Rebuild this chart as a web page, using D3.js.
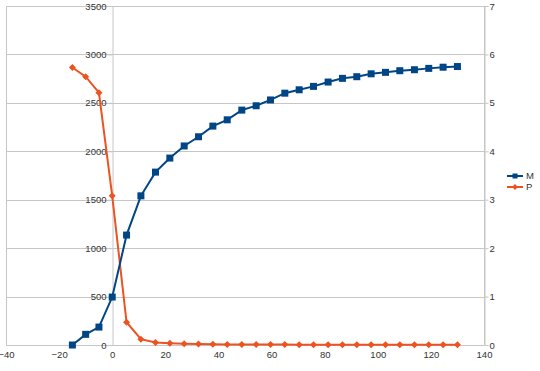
<!DOCTYPE html>
<html>
<head>
<meta charset="utf-8">
<script src="https://cdn.jsdelivr.net/npm/d3@7"></script>
<style>
  body { margin: 0; background: #fff; }
  svg { display: block; font-family: "Liberation Sans", Arial, sans-serif; }
</style>
</head>
<body>
<div id="chart"></div>
<script>
// x positions of the samples
var xValues = [-15, -10, -5, 0, 5.4, 10.8, 16.3, 21.7, 27.1, 32.5, 37.9, 43.3, 48.8, 54.2,
    59.6, 65, 70.4, 75.8, 81.3, 86.7, 92.1, 97.5, 102.9, 108.3, 113.8, 119.2, 124.6, 130];
// series M (left axis)
var mValues = [0, 110, 185, 495, 1135, 1540, 1785, 1930, 2055, 2150, 2260, 2325, 2425, 2470,
    2530, 2600, 2635, 2670, 2715, 2753, 2770, 2800, 2815, 2832, 2842, 2856, 2868, 2875];
// series P (right axis)
var pValues = [5.73, 5.54, 5.21, 3.08, 0.47, 0.12, 0.05, 0.035, 0.025, 0.02, 0.015, 0.012, 0.01, 0.01,
    0.008, 0.008, 0.006, 0.006, 0.005, 0.005, 0.004, 0.004, 0.004, 0.003, 0.003, 0.003, 0.003, 0.003];
var xTicks = [-40, -20, 0, 20, 40, 60, 80, 100, 120, 140];
var leftTicks = [0, 500, 1000, 1500, 2000, 2500, 3000, 3500];
var rightTicks = [0, 1, 2, 3, 4, 5, 6, 7];
var seriesNames = ['M', 'P'];
var colors = ['#004586', '#ec5320'];

var width = 540, height = 371;
var plot = { left: 6, right: 484, top: 6, bottom: 345 };

var svg = d3.select('#chart').append('svg')
    .attr('width', width)
    .attr('height', height);

var x = d3.scaleLinear().domain([-40, 140]).range([plot.left, plot.right]);
var yL = d3.scaleLinear().domain([0, 3500]).range([plot.bottom, plot.top]);
var yR = d3.scaleLinear().domain([0, 7]).range([plot.bottom, plot.top]);

var gridColor = '#c6c6c6';
var textColor = '#333';
var fmt = d3.format('d');

// horizontal gridlines
svg.append('g').selectAll('line')
    .data(leftTicks)
    .enter().append('line')
    .attr('x1', plot.left).attr('x2', plot.right)
    .attr('y1', function(d) { return Math.round(yL(d)) + 0.5; })
    .attr('y2', function(d) { return Math.round(yL(d)) + 0.5; })
    .style('stroke', gridColor);

// plot frame sides
[plot.left, plot.right].forEach(function(px) {
    svg.append('line')
        .attr('x1', px + 0.5).attr('x2', px + 0.5)
        .attr('y1', plot.top).attr('y2', plot.bottom)
        .style('stroke', gridColor);
});

// left axis sitting on x = 0
var axisL = svg.append('g')
    .attr('transform', 'translate(' + (Math.round(x(0)) + 0.5) + ',0)')
    .call(d3.axisLeft(yL).tickValues(leftTicks).tickFormat(fmt).tickSize(5).tickPadding(1));
// right axis
var axisR = svg.append('g')
    .attr('transform', 'translate(' + (plot.right + 0.5) + ',0)')
    .call(d3.axisRight(yR).tickValues(rightTicks).tickFormat(fmt).tickSize(4).tickPadding(1));
// bottom axis labels
var axisB = svg.append('g')
    .attr('transform', 'translate(0,' + (plot.bottom + 0.5) + ')')
    .call(d3.axisBottom(x).tickValues(xTicks).tickFormat(fmt).tickSize(0).tickPadding(6));

[axisL, axisR, axisB].forEach(function(g) {
    g.select('.domain').style('stroke', gridColor);
    g.selectAll('.tick line').style('stroke', gridColor);
    g.selectAll('text')
        .style('fill', textColor)
        .style('font-size', '9.5px')
        .style('font-family', '"Liberation Sans", Arial, sans-serif');
});
axisB.select('.domain').remove();

function drawSeries(yScale, values, color, marker) {
    var pts = xValues.map(function(xv, i) { return [x(xv), yScale(values[i])]; });
    svg.append('path')
        .datum(pts)
        .attr('d', d3.line())
        .style('fill', 'none')
        .style('stroke', color)
        .style('stroke-width', 2);
    svg.append('g').selectAll('path')
        .data(pts)
        .enter().append('path')
        .attr('d', marker)
        .attr('transform', function(d) { return 'translate(' + d[0] + ',' + d[1] + ')'; })
        .style('fill', color);
}

var square = d3.symbol().type(d3.symbolSquare).size(49)();
var diamond = 'M0,-3.5L3.5,0L0,3.5L-3.5,0Z';

drawSeries(yR, pValues, colors[1], diamond);
drawSeries(yL, mValues, colors[0], square);

// legend
var legend = svg.append('g');
seriesNames.forEach(function(name, i) {
    var ly = 176 + i * 11;
    legend.append('line')
        .attr('x1', 507).attr('x2', 523)
        .attr('y1', ly).attr('y2', ly)
        .style('stroke', colors[i])
        .style('stroke-width', 2);
    legend.append('path')
        .attr('d', i === 0 ? d3.symbol().type(d3.symbolSquare).size(25)() : 'M0,-3L3,0L0,3L-3,0Z')
        .attr('transform', 'translate(515,' + ly + ')')
        .style('fill', colors[i]);
    legend.append('text')
        .attr('x', 526)
        .attr('y', ly)
        .attr('dy', '.35em')
        .style('font-size', '9.5px')
        .style('fill', textColor)
        .text(name);
});
</script>
</body>
</html>
